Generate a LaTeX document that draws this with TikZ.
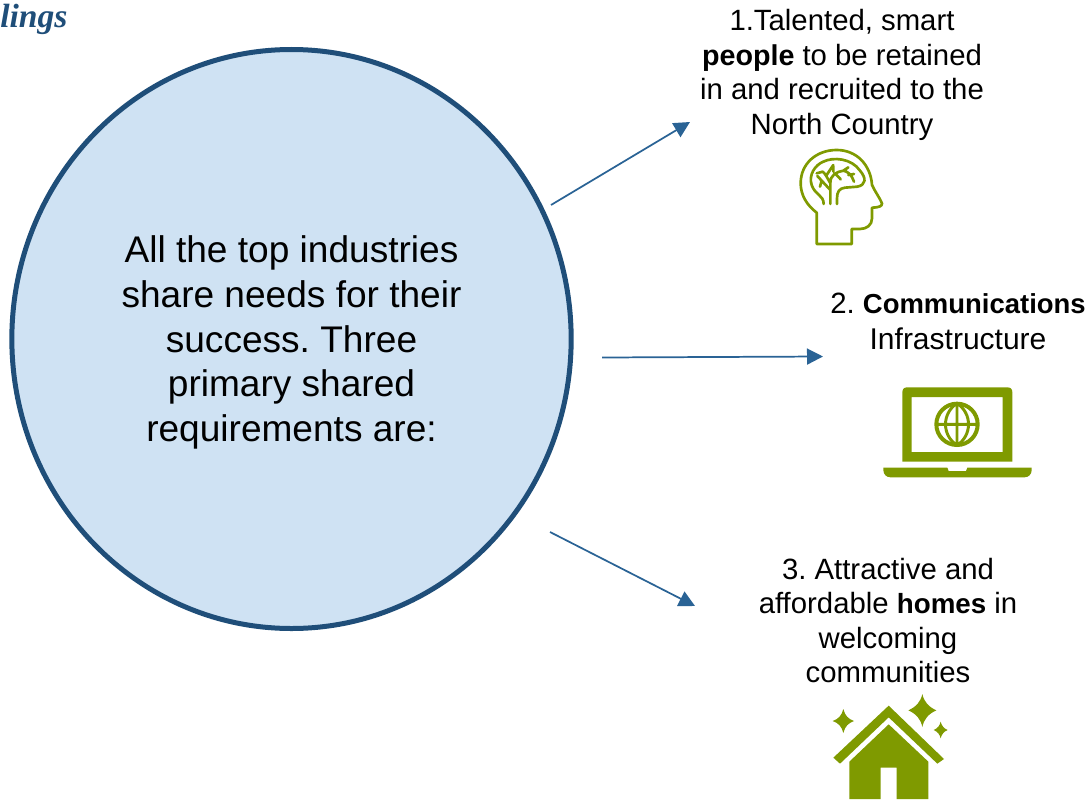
\documentclass[tikz,border=0pt]{standalone}
\usepackage{fontspec}
\setmainfont{Liberation Sans}
\newfontfamily\titlefont{Liberation Serif}
\AtBeginDocument{\frenchspacing}
\definecolor{darkblue}{HTML}{1F4E79}
\definecolor{circlefill}{HTML}{CFE2F3}
\definecolor{arrowblue}{HTML}{2A6395}
\definecolor{icongreen}{HTML}{7F9A00}
\usetikzlibrary{arrows.meta,shapes.geometric}
\newcommand{\boldpart}[2]{{\fontsize{#1}{25.9}\selectfont\bfseries #2}}
\tikzset{
  bigcircle/.style={ellipse,draw=darkblue,line width=3.75pt,fill=circlefill,minimum width=419.5pt,minimum height=434.25pt,inner sep=0pt,align=center},
  reqtext/.style={align=center,inner sep=0pt,font=\fontsize{22}{25.9}\selectfont},
  link/.style={draw=arrowblue,line width=1.3pt,-{Triangle[length=12pt,width=12pt]}},
  iconline/.style={draw=icongreen,line width=2pt,line join=round,line cap=round,fill=none},
  iconfill/.style={fill=icongreen,draw=none},
  iconscope/.style={x=0.25pt,y=-0.25pt}
}
\begin{document}
\begin{tikzpicture}[x=0.75pt,y=-0.75pt]
\useasboundingbox (0,0) rectangle (1091,799);
\node[anchor=base west,inner sep=0pt,text=darkblue,font=\titlefont\bfseries\itshape\fontsize{25.2}{30}\selectfont] (title) at (0,28) {lings};
\node[bigcircle] (hub) at (291.5,339) {};
\node[align=center,inner sep=0pt,font=\fontsize{27.8}{33.5}\selectfont] (hubtext) at (291.5,342.5) {All the top industries\\share needs for their\\success. Three\\primary shared\\requirements are:};
\node[reqtext] (req1) at (842,75) {1.Talented, smart\\\boldpart{21.5}{people} to be retained\\in and recruited to the\\North Country};
\node[reqtext] (req2) at (958,321) {2. \boldpart{20.6}{Communications}\\[1.2pt]{\fontsize{22.5}{25.9}\selectfont Infrastructure}};
\node[reqtext] (req3) at (888,620.5) {3. Attractive and\\affordable \boldpart{20.8}{homes} in\\welcoming\\communities};
\coordinate (s1) at (551,205); \coordinate (e1) at (690,122);
\coordinate (s2) at (602,357.5); \coordinate (e2) at (823,356.5);
\coordinate (s3) at (550,532); \coordinate (e3) at (695,606);
\draw[link] (s1) -- (e1);
\draw[link] (s2) -- (e2);
\draw[link] (s3) -- (e3);
% head icon
\begin{scope}[shift={(780,140)},iconscope]
\draw[iconline] (110,312) -- (110,218) .. controls (80,195) and (62,165) .. (62,130)
  .. controls (62,70) and (110,30) .. (170,30) .. controls (230,30) and (272,75) .. (276,135)
  .. controls (285,155) and (300,175) .. (306,190) .. controls (306,198) and (300,202) .. (276,203)
  -- (276,235) .. controls (276,255) and (260,267) .. (240,267) -- (215,267) -- (215,312) -- cycle;
\draw[iconline] (131,192) .. controls (131,165) and (105,165) .. (95,135)
  .. controls (85,105) and (105,75) .. (130,65) .. controls (160,50) and (215,55) .. (240,92)
  .. controls (260,115) and (258,135) .. (232,140) -- (195,143) .. controls (178,145) and (171,155) .. (171,175) -- (171,192);
\draw[iconline] (151,192) -- (151,130) .. controls (150,105) and (170,95) .. (190,92) (151,130) .. controls (140,110) and (135,100) .. (128,95)
  (128,95) -- (110,100) (138,108) -- (160,75) (160,95) -- (160,78) (190,92) -- (205,82)
  (190,92) .. controls (205,95) and (215,105) .. (222,125) (205,105) -- (222,102)
  (151,150) -- (125,122) (125,122) -- (112,108) (125,122) -- (120,140)
  (165,100) -- (182,118);
\end{scope}
% laptop icon
\begin{scope}[shift={(870,375)},iconscope]
\path[iconfill,even odd rule] (112,37) -- (412,37) .. controls (422,37) and (427,42) .. (427,52) -- (427,260) -- (97,260) -- (97,52) .. controls (97,42) and (102,37) .. (112,37) -- cycle
  (125,66) rectangle (398,231);
\path[iconfill] (40,278) -- (232,278) -- (236,288) -- (288,288) -- (292,278) -- (485,278) -- (485,285) .. controls (485,298) and (476,307) .. (463,307) -- (62,307) .. controls (49,307) and (40,298) .. (40,285) -- cycle;
\draw[draw=icongreen,line width=3pt] (261,148) circle [radius=62];
\draw[draw=icongreen,line width=2.2pt] (261,85) -- (261,211) (198,148) -- (324,148)
  (261,85) .. controls (215,115) and (215,181) .. (261,211) (261,85) .. controls (307,115) and (307,181) .. (261,211);
\end{scope}
% house icon
\begin{scope}[shift={(820,685)},iconscope]
\path[iconfill] (206,62) -- (372,222) -- (352,236) -- (206,97) -- (60,236) -- (40,218) -- cycle;
\path[iconfill] (206,118) -- (325,230) -- (325,342) -- (230,342) -- (230,248) -- (182,248) -- (182,342) -- (88,342) -- (88,230) -- cycle;
\path[iconfill] (70,72) .. controls (75,92) and (85,102) .. (102,108) .. controls (85,114) and (75,124) .. (70,144) .. controls (65,124) and (55,114) .. (38,108) .. controls (55,102) and (65,92) .. (70,72) -- cycle;
\path[iconfill] (307,27) .. controls (312,50) and (325,65) .. (349,76) .. controls (325,87) and (312,102) .. (307,126) .. controls (302,102) and (289,87) .. (265,76) .. controls (289,65) and (302,50) .. (307,27) -- cycle;
\path[iconfill] (362,110) .. controls (365,122) and (371,130) .. (383,135) .. controls (371,140) and (365,148) .. (362,160) .. controls (359,148) and (353,140) .. (341,135) .. controls (353,130) and (359,122) .. (362,110) -- cycle;
\end{scope}
\end{tikzpicture}
\end{document}
